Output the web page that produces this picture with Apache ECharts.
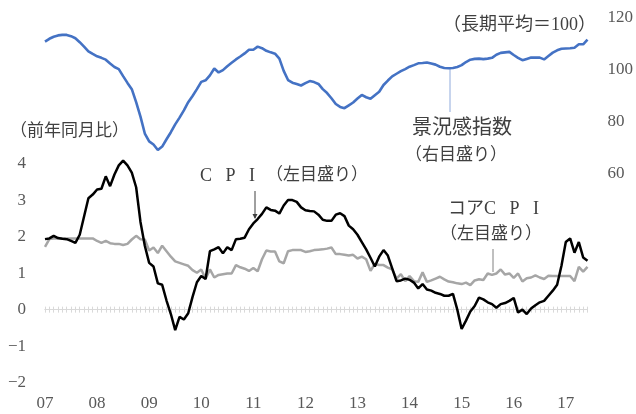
<!DOCTYPE html>
<html><head><meta charset="utf-8">
<script src="https://cdn.jsdelivr.net/npm/echarts@6/dist/echarts.min.js"></script>
<style>html,body{margin:0;padding:0;background:#fff}#c{width:636px;height:414px}</style>
</head><body><div id="c"></div>
<script>
// ---- data ----
const yearLabels = ['07','08','09','10','11','12','13','14','15','16','17'];
const monthsInLastYear = 6;
const leftTickLabels = [-2,-1,0,1,2,3,4];
const rightTickLabels = [60,80,100,120];

// 景況感指数 (right axis), monthly Jan 2007 - Jun 2017
const sentiment = [
 110.7,111.8,112.6,113.1,113.3,113.3,112.8,112.0,110.5,108.8,107.0,106.0,
 105.1,104.5,103.8,102.3,101.0,100.2,97.5,94.9,92.5,87.5,82.0,75.5,
 72.5,71.3,69.2,70.5,73.3,76.0,79.0,81.6,84.4,87.5,89.9,92.5,
 95.3,95.9,97.8,100.4,98.9,99.8,101.3,102.6,103.9,105.0,106.2,107.6,
 107.6,108.8,108.2,107.2,106.6,106.1,104.2,99.5,96.0,95.0,94.5,93.9,
 94.8,95.6,95.2,94.5,92.5,91.0,89.0,86.8,85.7,85.2,86.3,87.4,
 88.9,90.3,89.4,88.8,90.2,91.5,94.1,95.8,97.4,98.4,99.4,100.2,
 101.1,101.7,102.4,102.5,102.7,102.3,101.9,101.1,100.6,100.5,100.6,101.0,
 101.7,102.9,103.8,104.1,104.2,104.0,104.2,104.5,105.7,106.4,106.6,106.8,
 105.6,104.5,103.6,104.1,104.6,104.6,104.6,103.9,105.2,106.5,107.4,108.0,
 108.1,108.2,108.4,109.7,109.7,111.5
];
// CPI (left axis, % y/y)
const cpi = [
 1.93,1.95,2.02,1.96,1.94,1.93,1.88,1.83,2.05,2.55,3.05,3.15,
 3.29,3.31,3.65,3.38,3.70,3.95,4.08,3.95,3.75,3.35,2.40,1.75,
 1.28,1.18,0.72,0.68,0.25,-0.12,-0.56,-0.20,-0.27,-0.10,0.35,0.75,
 0.92,0.84,1.60,1.65,1.71,1.54,1.71,1.63,1.93,1.94,1.97,2.20,
 2.36,2.48,2.62,2.80,2.73,2.71,2.63,2.85,3.00,3.00,2.95,2.80,
 2.72,2.70,2.69,2.60,2.46,2.43,2.43,2.60,2.64,2.56,2.30,2.20,
 2.05,1.85,1.65,1.42,1.18,1.45,1.63,1.48,1.13,0.78,0.80,0.85,
 0.82,0.74,0.58,0.70,0.55,0.52,0.46,0.43,0.38,0.38,0.43,0.00,
 -0.53,-0.30,-0.05,0.10,0.33,0.28,0.20,0.15,0.05,0.15,0.18,0.24,
 0.32,-0.08,0.00,-0.12,0.03,0.12,0.20,0.24,0.38,0.52,0.68,1.20,
 1.85,1.95,1.56,1.85,1.43,1.34
];
// コアCPI (left axis, % y/y)
const coreCpi = [
 1.72,1.93,1.95,1.95,1.95,1.95,1.95,1.95,1.95,1.95,1.95,1.95,
 1.88,1.83,1.88,1.82,1.80,1.80,1.77,1.80,1.92,2.02,1.93,1.92,
 1.62,1.70,1.55,1.75,1.60,1.45,1.32,1.28,1.24,1.20,1.08,1.01,
 1.10,0.85,1.10,0.88,0.95,0.97,0.99,0.99,1.22,1.16,1.12,1.06,
 1.14,1.05,1.38,1.62,1.59,1.59,1.32,1.27,1.60,1.63,1.63,1.63,
 1.58,1.60,1.63,1.64,1.65,1.67,1.70,1.52,1.52,1.50,1.48,1.50,
 1.40,1.45,1.38,1.06,1.25,1.22,1.22,1.15,1.10,0.85,0.97,0.78,
 0.92,0.78,0.76,1.02,0.76,0.80,0.85,0.90,0.83,0.77,0.75,0.72,
 0.70,0.74,0.67,0.80,0.83,0.81,0.99,0.95,0.99,1.10,0.96,0.99,
 0.87,0.99,0.77,0.86,0.88,0.94,0.88,0.84,0.93,0.92,0.92,0.92,
 0.92,0.92,0.78,1.17,1.04,1.17
];

// categories: one per month
const categories = [];
yearLabels.forEach((y, yi) => {
  const n = yi === yearLabels.length - 1 ? monthsInLastYear : 12;
  for (let m = 1; m <= n; m++) categories.push(y + '/' + m);
});

const serifFont = "'Liberation Serif', 'Noto Sans CJK JP', serif";
const jpFont = "'Liberation Serif', 'Noto Sans CJK JP', sans-serif";
const tickColor = '#595959';
const textColor = '#404040';

function label(x, y, text, size, align) {
  return {type: 'text', x: x, y: y, z: 10,
    style: {text: text, fontFamily: jpFont, fontSize: size, fill: textColor,
            align: align || 'left', verticalAlign: 'middle'}};
}

const chart = echarts.init(document.getElementById('c'), null, {renderer: 'canvas'});
chart.setOption({
  animation: false,
  backgroundColor: '#ffffff',
  grid: {left: 45, right: 48.5, top: 17.4, bottom: 31.3, containLabel: false, outerBoundsMode: 'none'},
  xAxis: [
    { // zero line with downward ticks
      type: 'category', data: categories, boundaryGap: false, position: 'bottom',
      axisLine: {onZero: true, onZeroAxisIndex: 0, lineStyle: {color: '#D9D9D9', width: 1}},
      axisTick: {show: true, interval: 0, length: 3, lineStyle: {color: '#D9D9D9'}},
      axisLabel: {show: false}, splitLine: {show: false}
    },
    { // zero line upward ticks
      type: 'category', data: categories, boundaryGap: false, position: 'top',
      axisLine: {onZero: true, onZeroAxisIndex: 0, lineStyle: {color: '#D9D9D9', width: 1}},
      axisTick: {show: true, interval: 0, length: 3, lineStyle: {color: '#D9D9D9'}},
      axisLabel: {show: false}, splitLine: {show: false}
    },
    { // year labels at bottom
      type: 'category', data: categories, boundaryGap: false, position: 'bottom',
      axisLine: {show: false, onZero: false}, axisTick: {show: false},
      axisLabel: {
        show: true, margin: 12, color: tickColor, fontFamily: serifFont, fontSize: 17,
        interval: (idx) => idx % 12 === 0,
        formatter: (v) => v.split('/')[0]
      },
      splitLine: {show: false}
    }
  ],
  yAxis: [
    {
      type: 'value', min: -2, max: 8, interval: 1, position: 'left',
      axisLine: {show: false}, axisTick: {show: false}, splitLine: {show: false},
      axisLabel: {
        margin: 19, color: tickColor, fontFamily: serifFont, fontSize: 17,
        formatter: (v) => leftTickLabels.indexOf(v) >= 0 ? (v < 0 ? '\u2212' + Math.abs(v) : String(v)) : ''
      }
    },
    {
      type: 'value', min: -20, max: 120, interval: 20, position: 'right',
      axisLine: {show: false}, axisTick: {show: false}, splitLine: {show: false},
      axisLabel: {
        margin: 20, color: tickColor, fontFamily: serifFont, fontSize: 17,
        formatter: (v) => rightTickLabels.indexOf(v) >= 0 ? String(v) : ''
      }
    }
  ],
  series: [
    {name: '景況感指数', type: 'line', xAxisIndex: 0, yAxisIndex: 1, data: sentiment,
     symbol: 'none', lineStyle: {color: '#4472C4', width: 2.6}, itemStyle: {color: '#4472C4'}, z: 3},
    {name: 'コアCPI', type: 'line', xAxisIndex: 0, yAxisIndex: 0, data: coreCpi,
     symbol: 'none', lineStyle: {color: '#A6A6A6', width: 2.5}, itemStyle: {color: '#A6A6A6'}, z: 3},
    {name: 'CPI', type: 'line', xAxisIndex: 0, yAxisIndex: 0, data: cpi,
     symbol: 'none', lineStyle: {color: '#000000', width: 2.5}, itemStyle: {color: '#000000'}, z: 4}
  ],
  graphic: [
    label(596, 25, '（長期平均＝100）', 18, 'right'),
    label(412, 129, '景況感指数', 20),
    label(405, 156, '（右目盛り）', 17),
    label(10, 132, '（前年同月比）', 17),
    label(200, 176, 'C   P   I', 18),
    label(266, 176, '（左目盛り）', 17),
    label(448, 209, 'コアC   P   I', 18),
    label(440, 235, '（左目盛り）', 17),
    {type: 'line', shape: {x1: 255, y1: 191, x2: 255, y2: 218}, style: {stroke: '#404040', lineWidth: 1}},
    {type: 'polygon', shape: {points: [[252.5, 214], [257.5, 214], [255, 219]]}, style: {fill: '#404040'}},
    {type: 'line', shape: {x1: 450, y1: 68, x2: 450, y2: 112}, style: {stroke: '#8FAADC', lineWidth: 1}},
    {type: 'line', shape: {x1: 493, y1: 249, x2: 493, y2: 272}, style: {stroke: '#808080', lineWidth: 1}}
  ]
});
</script></body></html>
